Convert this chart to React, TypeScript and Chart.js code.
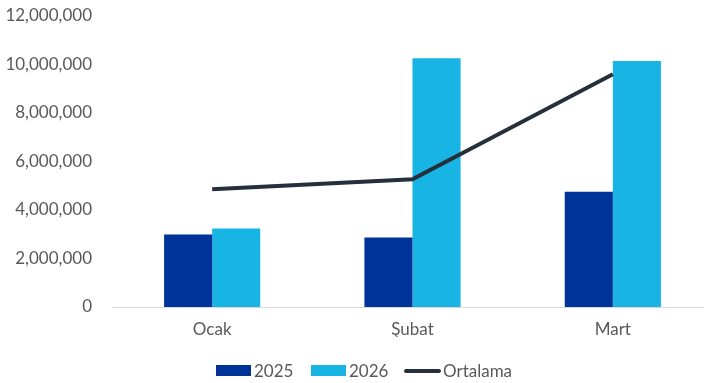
import React, { useEffect, useRef } from "react";
import { Chart, registerables } from "chart.js";

Chart.register(...registerables);

const categories = ["Ocak", "Şubat", "Mart"];
const series2025 = [2990000, 2870000, 4750000];
const series2026 = [3240000, 10260000, 10140000];
const ortalama = [4860000, 5270000, 9600000];
const yTicks = [0, 2000000, 4000000, 6000000, 8000000, 10000000, 12000000];

const FONT = "Lato, 'Open Sans', sans-serif";
const TEXT = "#595959";
const C2025 = "#00339A";
const C2026 = "#17B4E4";
const CLINE = "#262F3C";

export default function App() {
  const ref = useRef<HTMLCanvasElement>(null);
  useEffect(() => {
    if (!ref.current) return;
    const chart = new Chart(ref.current, {
      type: "bar",
      data: {
        labels: categories,
        datasets: [
          {
            type: "line",
            label: "Ortalama",
            data: ortalama,
            borderColor: CLINE,
            backgroundColor: CLINE,
            borderWidth: 4,
            pointRadius: 0,
            tension: 0,
            order: 0,
          } as any,
          {
            label: "2025",
            data: series2025,
            backgroundColor: C2025,
            barPercentage: 1,
            categoryPercentage: 0.48,
            order: 1,
          },
          {
            label: "2026",
            data: series2026,
            backgroundColor: C2026,
            barPercentage: 1,
            categoryPercentage: 0.48,
            order: 1,
          },
        ],
      },
      options: {
        responsive: false,
        animation: false,
        layout: { padding: { left: 5, right: 3, top: 16, bottom: 46 } },
        plugins: { legend: { display: false }, tooltip: { enabled: false } },
        scales: {
          x: {
            offset: true,
            grid: { display: false, drawTicks: false },
            border: { display: true, color: "#D9D9D9", width: 1 },
            ticks: { color: TEXT, font: { family: FONT, size: 17 }, padding: 12 },
            afterFit: (s: any) => {
              s.height = 30;
              s.paddingLeft = 0;
              s.paddingRight = 0;
            },
          },
          y: {
            min: 0,
            max: 12000000,
            afterBuildTicks: (s: any) => {
              s.ticks = yTicks.map((v) => ({ value: v }));
            },
            afterFit: (s: any) => {
              s.width = 107;
              s.paddingTop = 0;
              s.paddingBottom = 0;
            },
            grid: { display: false, drawTicks: false },
            border: { display: false },
            ticks: {
              color: TEXT,
              font: { family: FONT, size: 17 },
              padding: 20,
              callback: (v: any) => Number(v).toLocaleString("en-US"),
            },
          },
        },
      },
    });
    return () => chart.destroy();
  }, []);

  const textStyle: React.CSSProperties = {
    position: "absolute",
    top: 360,
    fontFamily: FONT,
    fontSize: 17,
    color: TEXT,
    lineHeight: "22px",
  };
  return (
    <div
      style={{
        position: "fixed",
        left: 0,
        top: 0,
        width: 704,
        height: 383,
        overflow: "hidden",
        background: "#fff",
      }}
    >
      <canvas ref={ref} width={716} height={383} style={{ display: "block" }} />
      <div style={{ position: "absolute", left: 216, top: 365, width: 35, height: 11, background: C2025 }} />
      <div style={{ ...textStyle, left: 254 }}>2025</div>
      <div style={{ position: "absolute", left: 311, top: 365, width: 35, height: 11, background: C2026 }} />
      <div style={{ ...textStyle, left: 349 }}>2026</div>
      <div style={{ position: "absolute", left: 404, top: 369, width: 37, height: 4, background: CLINE, borderRadius: 2 }} />
      <div style={{ ...textStyle, left: 443 }}>Ortalama</div>
    </div>
  );
}
